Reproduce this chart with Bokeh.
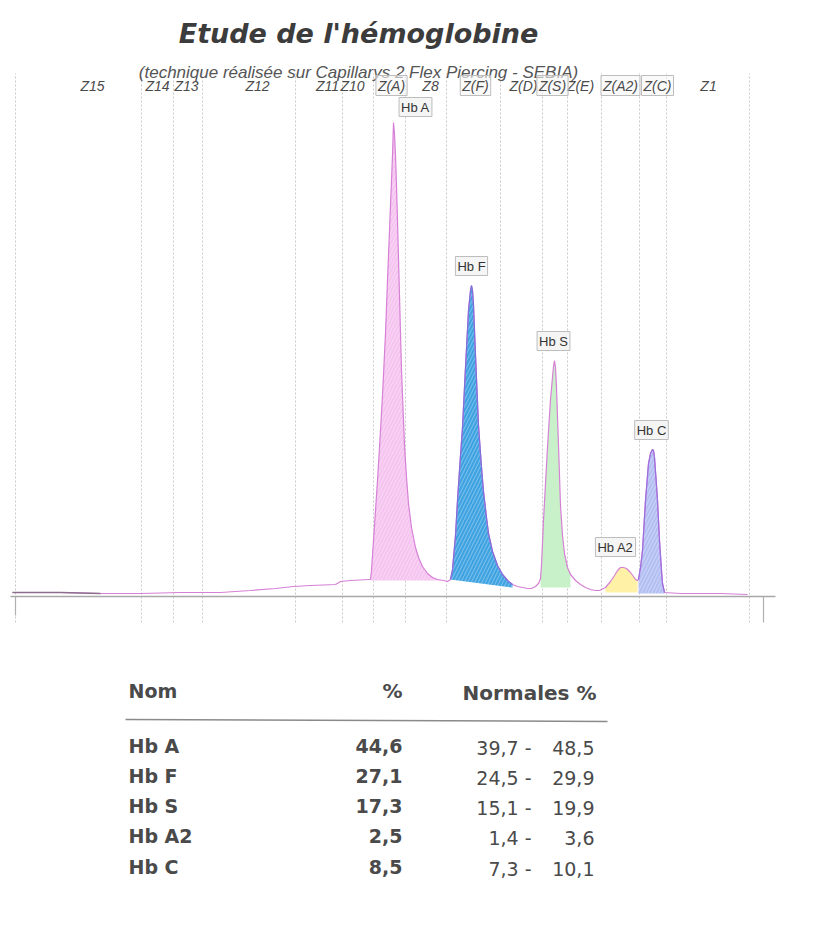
from bokeh.plotting import figure
from bokeh.layouts import column
from bokeh.models import Range1d
from bokeh.core.properties import value
from bokeh.embed import file_html
from bokeh.resources import INLINE

# ---------------- data ----------------
title_text = "Etude de l'hémoglobine"
subtitle_text = "(technique réalisée sur Capillarys 2 Flex Piercing - SEBIA)"

# electropherogram trace: migration position / signal
trace_x = [12, 60, 100, 140, 180, 220, 250, 275, 293, 310, 335, 340, 350, 368,
           370, 371, 373, 375, 377, 380, 382, 385, 387, 390, 392, 393, 394, 395,
           396, 397, 399, 401, 404, 406, 408, 411, 415, 418, 422, 427, 432, 437,
           443, 447, 450, 452, 455, 457, 460, 462, 465, 468, 470, 471, 472, 473,
           475, 478, 481, 483, 486, 488, 492, 497, 502, 507, 512, 517, 522, 527,
           531, 535, 538, 540, 541, 543, 545, 547, 550, 552, 553, 554, 555, 556,
           558, 560, 562, 564, 567, 570, 575, 580, 585, 590, 595, 599, 605, 610,
           614, 617, 620, 623, 626, 630, 633, 635, 637, 638, 640, 642, 645, 648,
           650, 652, 653, 654, 656, 657, 659, 661, 662, 664, 680, 700, 720, 747]
trace_s = [3, 3, 2, 2, 3, 3, 5, 7, 9, 10, 11, 14, 15, 16,
           16, 25, 55, 85, 115, 165, 200, 262, 315, 390, 440, 473, 462, 440,
           410, 375, 300, 225, 150, 118, 92, 68, 48, 38, 29, 22, 18, 16,
           15, 14, 16, 26, 60, 95, 140, 168, 228, 285, 305, 310, 305, 290,
           240, 170, 128, 104, 78, 62, 44, 30, 21, 15, 11, 9, 8, 7,
           7, 9, 12, 17, 30, 75, 112, 148, 196, 218, 229, 235, 228, 208,
           150, 90, 60, 42, 28, 21, 15, 11, 8, 6, 5, 5, 8, 14,
           20, 25, 28, 28, 27, 23, 19, 16, 15, 16, 28, 45, 95, 132,
           142, 146, 145, 138, 110, 95, 55, 25, 12, 3, 2, 2, 2, 1]

zone_names = ["Z15", "Z14", "Z13", "Z12", "Z11", "Z10", "Z(A)", "Z8", "Z(F)",
              "Z(D)", "Z(S)", "Z(E)", "Z(A2)", "Z(C)", "Z1"]
zone_bounds = [15, 141, 173, 202, 295, 342, 373, 405, 446, 500, 542, 567, 601,
               639, 666, 749]
zone_detected = [False, False, False, False, False, False, True, False, True,
                 False, True, False, True, True, False]

peak_names = ["Hb A", "Hb F", "Hb S", "Hb A2", "Hb C"]
peak_apex_x = [393, 471, 554, 623, 652]
peak_apex_s = [473, 310, 235, 28, 146]
peak_start = [370, 450, 540, 605, 638]
peak_end = [443, 512, 570, 637, 664]
peak_base_start = [15, 16, 8, 3, 2]
peak_base_end = [15, 8, 8, 3, 2]
peak_pct = ["44,6", "27,1", "17,3", "2,5", "8,5"]
norm_low = ["39,7 -", "24,5 -", "15,1 -", "1,4 -", "7,3 -"]
norm_high = ["48,5", "29,9", "19,9", "3,6", "10,1"]

# ---------------- style / layout ----------------
peak_fill = ["#f5c4f0", "#3fa3e2", "#c9f1c9", "#fff1a6", "#b3bff2"]
peak_hatch = [True, True, False, False, True]
peak_outline = [None, "#7c6fdc", None, None, "#9a70e0"]
label_dx = [22, 0, -1, -8, -1]
label_dy = [6, 10, 10, 11, 10]
zone_label_x = [92, 157, 186, 257, 327, 352, 391, 430, 475, 523, 552, 580, 620,
                657, 708]
GREY = "#555555"

# ---------------- chart ----------------
p = figure(width=821, height=640, x_range=Range1d(0, 821), y_range=Range1d(-45, 595),
           output_backend="svg", toolbar_location=None, x_axis_type=None,
           y_axis_type=None, min_border=0, outline_line_color=None,
           background_fill_color="white", border_fill_color="white")

# zone boundary dashed lines
p.segment(x0=zone_bounds, y0=[-27] * len(zone_bounds), x1=zone_bounds,
          y1=[522] * len(zone_bounds), line_color="#c8c8c8", line_width=1,
          line_dash="2 2")

# baseline axis and end ticks
p.segment(x0=[10], y0=[-1], x1=[775], y1=[-1], line_color="#a8a8a8", line_width=1.3)
p.segment(x0=[15, 763], y0=[-1, -1], x1=[15, 763], y1=[-20, -27],
          line_color="#b0b0b0", line_width=1.2)

# peak fills
for i in range(len(peak_names)):
    xs = [x for x in trace_x if peak_start[i] <= x <= peak_end[i]]
    ys = [s for x, s in zip(trace_x, trace_s) if peak_start[i] <= x <= peak_end[i]]
    px = xs + [peak_end[i], peak_start[i]]
    py = ys + [peak_base_end[i], peak_base_start[i]]
    kw = dict(fill_color=peak_fill[i], fill_alpha=1.0, line_color=None)
    if peak_hatch[i]:
        kw.update(hatch_pattern="/", hatch_color="white", hatch_alpha=0.35,
                  hatch_scale=7, hatch_weight=1)
    p.patch(px, py, **kw)

# trace
p.line(trace_x, trace_s, line_color="#d680d6", line_width=1.2)
left_x = [x for x in trace_x if x <= 100]
left_s = trace_s[:len(left_x)]
p.line(left_x, left_s, line_color="#8c6e8c", line_width=1.3)
for i in range(len(peak_names)):
    if peak_outline[i]:
        xs = [x for x in trace_x if peak_start[i] <= x <= peak_end[i]]
        ys = [s for x, s in zip(trace_x, trace_s) if peak_start[i] <= x <= peak_end[i]]
        p.line(xs, ys, line_color=peak_outline[i], line_width=1.2)

# titles
p.text(x=[358], y=[562], text=[title_text], text_font=value("DejaVu Sans"),
       text_font_style="bold italic", text_font_size="27px", text_color="#3c3c3c",
       text_align="center", text_baseline="middle")
p.text(x=[358], y=[523], text=[subtitle_text], text_font=value("Liberation Sans"),
       text_font_style="italic", text_font_size="17px", text_color=GREY,
       text_align="center", text_baseline="middle")

# zone labels
plain_x = [zx for zx, d in zip(zone_label_x, zone_detected) if not d]
plain_t = [zn for zn, d in zip(zone_names, zone_detected) if not d]
box_x = [zx for zx, d in zip(zone_label_x, zone_detected) if d]
box_t = [zn for zn, d in zip(zone_names, zone_detected) if d]
p.text(x=plain_x, y=[510] * len(plain_x), text=plain_t,
       text_font=value("Liberation Sans"), text_font_style="italic",
       text_font_size="14px", text_color="#4a4a4a", text_align="center",
       text_baseline="middle")
p.text(x=box_x, y=[510] * len(box_x), text=box_t,
       text_font=value("Liberation Sans"), text_font_style="italic",
       text_font_size="14px", text_color="#4a4a4a", text_align="center",
       text_baseline="middle", border_line_color="#bdbdbd", border_line_width=1,
       background_fill_color="#f7f7f7", background_fill_alpha=0.6, padding=2)

# peak labels
p.text(x=[ax + dx for ax, dx in zip(peak_apex_x, label_dx)],
       y=[s + dy for s, dy in zip(peak_apex_s, label_dy)], text=peak_names,
       text_font=value("Liberation Sans"), text_font_size="13px",
       text_color="#333333", text_align="center", text_baseline="bottom",
       border_line_color="#bdbdbd", border_line_width=1,
       background_fill_color="#f5f5f5", padding=2)

# ---------------- table ----------------
t = figure(width=821, height=293, x_range=Range1d(0, 821), y_range=Range1d(933, 640),
           output_backend="svg", toolbar_location=None, x_axis_type=None,
           y_axis_type=None, min_border=0, outline_line_color=None,
           background_fill_color="white", border_fill_color="white")

TC = "#4a4a4a"
FONT = value("DejaVu Sans")
t.text(x=[128], y=[690], text=["Nom"], text_font=FONT, text_font_style="bold",
       text_font_size="19px", text_color=TC, text_align="left", text_baseline="middle")
t.text(x=[402], y=[690], text=["%"], text_font=FONT, text_font_style="bold",
       text_font_size="20px", text_color=TC, text_align="right", text_baseline="middle")
t.text(x=[596], y=[692], text=["Normales %"], text_font=FONT, text_font_style="bold",
       text_font_size="20px", text_color=TC, text_align="right", text_baseline="middle")
t.segment(x0=[125], y0=[719], x1=[607], y1=[721], line_color="#8a8a8a", line_width=1.5)

rows_y = [745 + 30.3 * i for i in range(len(peak_names))]
t.text(x=[128] * 5, y=rows_y, text=peak_names, text_font=FONT, text_font_style="bold",
       text_font_size="19px", text_color=TC, text_align="left", text_baseline="middle")
t.text(x=[402] * 5, y=rows_y, text=peak_pct, text_font=FONT, text_font_style="bold",
       text_font_size="19px", text_color=TC, text_align="right", text_baseline="middle")
t.text(x=[531] * 5, y=[r + 2 for r in rows_y], text=norm_low, text_font=FONT,
       text_font_size="19px", text_color=TC, text_align="right", text_baseline="middle")
t.text(x=[594] * 5, y=[r + 2 for r in rows_y], text=norm_high, text_font=FONT,
       text_font_size="19px", text_color=TC, text_align="right", text_baseline="middle")

layout = column(p, t, spacing=0)
open("out.html", "w").write(file_html(layout, INLINE))
